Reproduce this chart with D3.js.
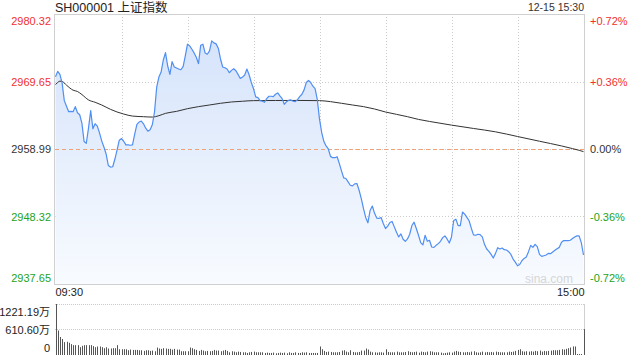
<!DOCTYPE html>
<html>
<head>
<meta charset="utf-8">
<script src="https://cdn.jsdelivr.net/npm/d3@7"></script>
<style>
  html, body { margin: 0; padding: 0; background: #fff; }
  svg { display: block; font-family: "Liberation Sans", Arial, "Noto Sans CJK SC", sans-serif; }
</style>
</head>
<body>
<svg id="chart" width="640" height="360"></svg>
<script>
const title = "SH000001 上证指数"
const stamp = "12-15 15:30"
const preClose = 2958.99
const priceTicks = [2937.65, 2948.32, 2958.99, 2969.65, 2980.32]
const pctTicks = ["-0.72%", "-0.36%", "0.00%", "+0.36%", "+0.72%"]
const timeLabels = ["09:30", "15:00"]
const volTicks = [0, 610.60, 1221.19]
const volLabels = ["0", "610.60万", "1221.19万"]

// one price per minute, 09:30 .. 15:00 (241 points)
const prices = [
  2970.40, 2971.25, 2970.77, 2969.44, 2966.63, 2965.73, 2964.88, 2964.92, 2964.88, 2965.68,
  2964.72, 2964.40, 2963.08, 2960.16, 2959.89, 2962.28, 2965.04, 2962.18, 2962.97, 2962.60,
  2961.54, 2960.27, 2959.31, 2958.20, 2956.39, 2956.13, 2956.18, 2957.40, 2958.83, 2960.37,
  2960.64, 2960.21, 2959.63, 2959.63, 2959.58, 2959.63, 2961.33, 2962.87, 2963.24, 2963.40,
  2962.97, 2962.28, 2961.80, 2962.02, 2962.81, 2964.83, 2968.76, 2970.35, 2971.14, 2973.05,
  2974.22, 2972.10, 2970.77, 2972.79, 2971.94, 2971.78, 2971.62, 2971.51, 2971.99, 2973.69,
  2975.55, 2975.28, 2974.75, 2974.17, 2973.48, 2972.47, 2975.39, 2975.55, 2974.17, 2973.96,
  2974.49, 2976.08, 2975.76, 2975.60, 2974.91, 2973.21, 2971.94, 2971.83, 2971.62, 2971.04,
  2971.41, 2971.67, 2971.36, 2970.77, 2970.13, 2970.35, 2970.67, 2971.62, 2970.72, 2969.50,
  2968.54, 2967.22, 2967.11, 2966.63, 2966.53, 2966.37, 2966.95, 2967.32, 2967.32, 2967.27,
  2967.64, 2967.85, 2967.38, 2966.95, 2966.05, 2966.47, 2966.69, 2966.74, 2966.53, 2966.47,
  2966.79, 2967.27, 2967.64, 2968.33, 2969.50, 2969.82, 2969.50, 2968.91, 2968.54, 2966.79,
  2963.71, 2961.59, 2960.16, 2959.47, 2958.99, 2957.82, 2957.61, 2957.61, 2957.77, 2956.71,
  2955.54, 2954.43, 2954.32, 2953.79, 2953.26, 2953.16, 2953.47, 2953.53, 2952.47, 2951.14,
  2949.55, 2948.17, 2947.32, 2949.28, 2949.97, 2948.86, 2948.06, 2948.01, 2948.17, 2947.21,
  2946.42, 2946.79, 2947.37, 2947.53, 2946.68, 2945.83, 2945.09, 2945.57, 2944.72, 2944.40,
  2944.77, 2945.51, 2946.89, 2947.42, 2946.42, 2945.35, 2944.19, 2943.82, 2945.35, 2944.40,
  2944.56, 2943.50, 2943.44, 2943.76, 2944.03, 2944.40, 2944.98, 2945.25, 2944.77, 2944.13,
  2945.09, 2947.69, 2947.90, 2946.89, 2946.89, 2949.02, 2948.70, 2948.17, 2947.64, 2946.47,
  2945.41, 2945.35, 2945.51, 2945.46, 2945.09, 2943.92, 2943.18, 2942.81, 2942.33, 2941.75,
  2942.49, 2943.39, 2943.18, 2943.34, 2943.07, 2943.02, 2942.76, 2942.33, 2941.59, 2941.11,
  2940.53, 2940.74, 2941.32, 2941.69, 2941.91, 2942.76, 2943.76, 2943.44, 2943.92, 2943.55,
  2942.33, 2942.01, 2942.12, 2942.23, 2942.49, 2942.44, 2942.70, 2942.97, 2943.23, 2943.44,
  2944.24, 2944.51, 2944.51, 2944.51, 2944.56, 2944.83, 2945.09, 2945.25, 2945.25, 2944.19,
  2942.23
]

// average price line, read at these minutes
const avgMinutes = [0, 1, 2, 3, 5, 8, 10, 12, 15, 18, 21, 25, 28, 31, 35, 40, 44, 47, 50, 55,
  60, 65, 70, 75, 80, 85, 90, 100, 110, 120, 125, 130, 135, 140, 145, 150, 155, 160, 165, 170,
  180, 190, 200, 210, 220, 230, 235, 238, 240]
const avgPrices = [2969.18, 2969.50, 2969.71, 2969.66, 2969.07, 2968.28, 2968.07, 2967.59, 2966.74, 2966.37,
  2965.94, 2965.25, 2964.83, 2964.51, 2964.19, 2964.09, 2964.03, 2964.25, 2964.62, 2964.93,
  2965.36, 2965.68, 2965.94, 2966.21, 2966.42, 2966.53, 2966.63, 2966.65, 2966.66, 2966.63,
  2966.47, 2966.21, 2965.94, 2965.68, 2965.31, 2964.83, 2964.46, 2964.09, 2963.66, 2963.34,
  2962.76, 2962.23, 2961.70, 2960.96, 2960.21, 2959.47, 2959.05, 2958.78, 2958.57]

// volume per minute, in 万
const volumes = [
  1221, 586, 431, 383, 309, 317, 293, 260, 236, 236,
  236, 187, 220, 236, 236, 236, 236, 212, 187, 204,
  204, 187, 163, 187, 155, 155, 163, 163, 236, 138,
  138, 138, 138, 114, 130, 122, 122, 122, 114, 114,
  98, 114, 114, 98, 106, 90, 179, 155, 147, 163,
  155, 147, 147, 130, 147, 130, 130, 90, 90, 90,
  90, 179, 163, 138, 122, 98, 122, 106, 90, 98,
  90, 98, 122, 106, 106, 90, 106, 122, 98, 65,
  90, 81, 65, 81, 73, 65, 65, 49, 65, 73,
  81, 65, 65, 65, 65, 49, 57, 49, 49, 57,
  41, 49, 57, 49, 57, 41, 65, 49, 49, 65,
  49, 49, 65, 57, 65, 49, 49, 49, 49, 49,
  204,
  138, 98, 73, 81, 73, 65, 65, 65, 73, 106,
  114, 81, 65, 114, 73, 65, 65, 73, 106, 106,
  155, 130, 81, 65, 65, 57, 65, 65, 57, 138,
  73, 65, 65, 65, 81, 65, 65, 65, 73, 90,
  73, 65, 73, 81, 57, 81, 73, 65, 81, 90,
  81, 65, 65, 65, 57, 41, 49, 57, 65, 57,
  81, 98, 81, 73, 65, 65, 73, 65, 81, 90,
  65, 57, 65, 81, 65, 73, 65, 73, 65, 81,
  73, 65, 65, 65, 65, 81, 73, 81, 98, 122,
  138, 90, 81, 90, 81, 90, 81, 98, 90, 106,
  81, 98, 90, 98, 106, 114, 114, 114, 122, 138,
  130, 147, 163, 179, 204, 204, 0, 0, 0, 620
]

const red = "#f23030"
const green = "#22a322"
const grid = "#cccccc"

const svg = d3.select("#chart")
const plotL = 55, plotR = 584
const plotT = 14, plotB = 284
const volT = 304, volB = 355

const x = d3.scaleLinear().domain([0, 240]).range([plotL + 0.5, plotR - 0.5])
const y = d3.scaleLinear().domain([priceTicks[0], priceTicks[4]]).range([plotB, plotT])
const yv = d3.scaleLinear().domain([0, volTicks[2]]).range([volB, volT])

const tone = d => d > preClose + 0.005 ? red : d < preClose - 0.005 ? green : "#333"

// header
svg.append("text")
  .attr("x", plotL).attr("y", 11.5)
  .attr("font-size", 12.5).attr("fill", "#222")
  .text(title)
svg.append("text")
  .attr("x", plotR).attr("y", 11).attr("text-anchor", "end")
  .attr("font-size", 10.5).attr("fill", "#333")
  .text(stamp)

// fill gradient
const grad = svg.append("defs").append("linearGradient")
  .attr("id", "fill").attr("gradientUnits", "userSpaceOnUse")
  .attr("x1", 0).attr("x2", 0).attr("y1", plotT).attr("y2", plotB)
grad.append("stop").attr("offset", 0).attr("stop-color", "#d2e1fa")
grad.append("stop").attr("offset", 1).attr("stop-color", "#f8fbff")

// grid lines
svg.append("g").selectAll("line")
  .data(d3.range(30, 240, 30))
  .join("line")
  .attr("x1", d => Math.round(x(d)) + 0.5).attr("x2", d => Math.round(x(d)) + 0.5)
  .attr("y1", plotT).attr("y2", plotB)
  .attr("stroke", grid).attr("stroke-dasharray", "1,2")

svg.append("g").selectAll("line")
  .data(priceTicks.slice(1, 4))
  .join("line")
  .attr("x1", plotL).attr("x2", plotR)
  .attr("y1", d => Math.round(y(d)) + 0.5).attr("y2", d => Math.round(y(d)) + 0.5)
  .attr("stroke", grid).attr("stroke-dasharray", "1,2")

// price area + line
svg.append("path")
  .datum(prices)
  .attr("fill", "url(#fill)")
  .attr("d", d3.area().x((d, i) => x(i)).y0(plotB).y1(d => y(d)))

svg.append("line")
  .attr("x1", plotL).attr("x2", plotR)
  .attr("y1", Math.round(y(preClose)) + 0.5).attr("y2", Math.round(y(preClose)) + 0.5)
  .attr("stroke", "#f0a276").attr("stroke-dasharray", "4,3")

svg.append("path")
  .datum(avgMinutes.map((m, i) => [m, avgPrices[i]]))
  .attr("fill", "none").attr("stroke", "#333").attr("stroke-width", 1)
  .attr("d", d3.line().x(d => x(d[0])).y(d => y(d[1])).curve(d3.curveMonotoneX))

svg.append("path")
  .datum(prices)
  .attr("fill", "none").attr("stroke", "#4f8ef2").attr("stroke-width", 1.2)
  .attr("stroke-linejoin", "round")
  .attr("d", d3.line().x((d, i) => x(i)).y(d => y(d)))

svg.append("rect")
  .attr("x", plotL - 0.5).attr("y", plotT + 0.5)
  .attr("width", plotR - plotL + 1).attr("height", plotB - plotT)
  .attr("fill", "none").attr("stroke", "#d0d0d0")

svg.append("text")
  .attr("x", 573).attr("y", 283).attr("text-anchor", "end")
  .attr("font-size", 12).attr("fill", "#d6d6d6")
  .text("sina.com")

// price axes
const shift = (d, i) => i === 4 ? "0.95em" : i === 0 ? "-0.25em" : "0.32em"

const gl = svg.append("g").attr("transform", `translate(${plotL},0)`)
  .call(d3.axisLeft(y).tickValues(priceTicks).tickSize(0).tickPadding(4).tickFormat(d3.format(".2f")))
gl.select(".domain").remove()
gl.attr("font-family", null)
gl.selectAll("text").attr("font-size", 11)
  .attr("fill", d => tone(d)).attr("dy", shift)

const gr = svg.append("g").attr("transform", `translate(${plotR},0)`)
  .call(d3.axisRight(y).tickValues(priceTicks).tickSize(0).tickPadding(6)
    .tickFormat((d, i) => pctTicks[i]))
gr.select(".domain").remove()
gr.attr("font-family", null)
gr.selectAll("text").attr("font-size", 11)
  .attr("fill", d => tone(d)).attr("dy", shift)

// time axis
const gt = svg.append("g").attr("transform", `translate(0,${plotB})`)
  .call(d3.axisBottom(x).tickValues([0, 240]).tickSize(0).tickPadding(4)
    .tickFormat((d, i) => timeLabels[i]))
gt.select(".domain").remove()
gt.attr("font-family", null)
gt.selectAll("text").attr("font-size", 11).attr("fill", "#222")
  .attr("text-anchor", (d, i) => i === 0 ? "start" : "end")
  .attr("dx", (d, i) => i === 0 ? -0.5 : 0.5)

// volume panel
svg.append("g").selectAll("line")
  .data(volTicks.slice(1))
  .join("line")
  .attr("x1", plotL).attr("x2", plotR)
  .attr("y1", d => Math.round(yv(d)) + 0.5).attr("y2", d => Math.round(yv(d)) + 0.5)
  .attr("stroke", grid).attr("stroke-dasharray", "1,1")

svg.append("line")
  .attr("x1", plotR + 0.5).attr("x2", plotR + 0.5)
  .attr("y1", volT).attr("y2", volB)
  .attr("stroke", "#d0d0d0")

svg.append("g").selectAll("rect")
  .data(volumes)
  .join("rect")
  .attr("x", (d, i) => Math.round(x(i)))
  .attr("width", 1)
  .attr("y", d => Math.min(yv(d), volB - 1))
  .attr("height", d => Math.max(volB - yv(d), 1))
  .attr("fill", "#555")

const gv = svg.append("g").attr("transform", `translate(${plotL},0)`)
  .call(d3.axisLeft(yv).tickValues(volTicks).tickSize(0).tickPadding(5)
    .tickFormat((d, i) => volLabels[i]))
gv.select(".domain").remove()
gv.attr("font-family", null)
gv.selectAll("text").attr("font-size", 11).attr("fill", "#222")
  .attr("dy", (d, i) => i === 2 ? "1.0em" : i === 0 ? "-0.3em" : "0.32em")
</script>
</body>
</html>
